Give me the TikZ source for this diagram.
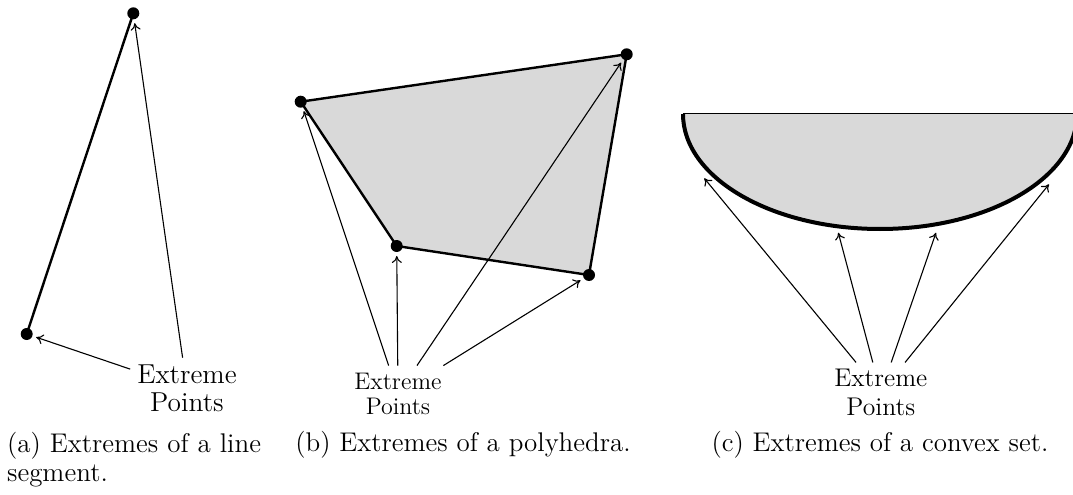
\documentclass[tikz,border=0pt]{standalone}
\usetikzlibrary{arrows.meta}
\definecolor{SetGray}{RGB}{217,217,217}

\begin{document}
\begin{tikzpicture}[x=0.5pt, y=0.5pt,
  extreme/.style={circle, fill, inner sep=0pt, minimum size=6pt, outer sep=2pt},
  pointer/.style={-{To[length=3.5pt,width=5pt]}, line width=0.55pt},
  rim/.style={line width=1.2pt, line join=round},
  caption/.style={inner sep=0pt, font=\fontsize{13.5}{14.6}\selectfont}]
  \useasboundingbox (0,0) rectangle (1073,494);
  \clip (0,0) rectangle (1073,494);

  % (a) line segment
  \coordinate (sa1) at (133.3,480.7);
  \coordinate (sa2) at (26.7,160);
  \draw[rim] (sa1) -- (sa2);
  \node[extreme] (a1) at (sa1) {};
  \node[extreme] (a2) at (sa2) {};
  \node[align=center, font=\fontsize{13.7}{14.15}\selectfont] (ptsa) at (187,105.6) {Extreme\\Points};
  \draw[pointer] (ptsa) -- (a1);
  \draw[pointer] (ptsa) -- (a2);
  \node[caption, text width=128pt, align=left, anchor=north west] (capa) at (6.7,62.3) {(a) Extremes of a line segment.};

  % (b) polyhedra
  \coordinate (pb1) at (300.7,392.3);
  \coordinate (pb2) at (626.7,439.7);
  \coordinate (pb3) at (589,219);
  \coordinate (pb4) at (396.7,248);
  \filldraw[rim, fill=SetGray] (pb1) -- (pb2) -- (pb3) -- (pb4) -- cycle;
  \node[extreme] (b1) at (pb1) {};
  \node[extreme] (b2) at (pb2) {};
  \node[extreme] (b3) at (pb3) {};
  \node[extreme] (b4) at (pb4) {};
  \node[align=center, font=\fontsize{12}{12.85}\selectfont] (ptsb) at (398,100.2) {Extreme\\Points};
  \draw[pointer] (ptsb) -- (b1);
  \draw[pointer] (ptsb) -- (b4);
  \draw[pointer] (ptsb) -- (b2);
  \draw[pointer] (ptsb) -- (b3);
  \node[caption, anchor=base] (capb) at (463,42.3) {(b) Extremes of a polyhedra.};

  % (c) convex set
  \fill[SetGray] (683,380) arc[start angle=180, end angle=360, x radius=197, y radius=115] -- cycle;
  \draw[line width=0.5pt] (683,380) -- (1077,380);
  \draw[line width=2pt] (683,380) arc[start angle=180, end angle=360, x radius=197, y radius=115];
  \coordinate (c1) at (704.3,315.7);
  \coordinate (c2) at (838.3,261.3);
  \coordinate (c3) at (936,261.3);
  \coordinate (c4) at (1049,309.7);
  \node[align=center, font=\fontsize{12.8}{14.15}\selectfont] (ptsc) at (880.8,101.5) {Extreme\\Points};
  \draw[pointer] (ptsc) -- (c1);
  \draw[pointer] (ptsc) -- (c2);
  \draw[pointer] (ptsc) -- (c3);
  \draw[pointer] (ptsc) -- (c4);
  \node[caption, anchor=base] (capc) at (880,42.3) {(c) Extremes of a convex set.};
\end{tikzpicture}
\end{document}
